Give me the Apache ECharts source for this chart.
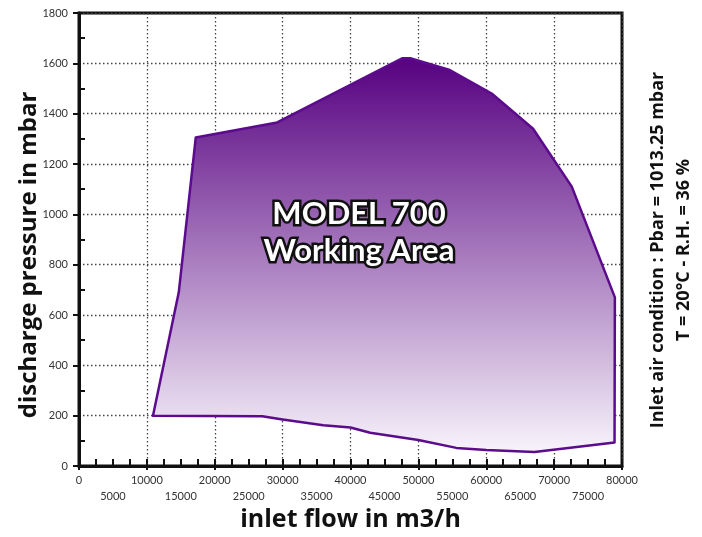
<!DOCTYPE html>
<html>
<head>
<meta charset="utf-8">
<script src="https://cdn.jsdelivr.net/npm/echarts@6/dist/echarts.min.js"></script>
<style>
html,body{margin:0;padding:0;background:#fff;}
#chart{width:702px;height:537px;}
</style>
</head>
<body>
<div id="chart"></div>
<script>
// Working area boundary (inlet flow m3/h, discharge pressure mbar)
const flow = [10900, 14700, 17200, 29200, 47600, 48800, 54500, 60800, 66900, 72600, 78950, 78900, 67100, 60000, 55600, 50000, 47300, 42900, 40000, 36000, 30000, 27000];
const pressure = [200, 690, 1305, 1365, 1620, 1620, 1575, 1480, 1340, 1110, 670, 93, 56, 64, 72, 103, 114, 132, 153, 162, 185, 198];

const xTitle = 'inlet flow in m3/h';
const yTitle = 'discharge pressure in mbar';
const areaLabel = ['MODEL 700', 'Working Area'];
const conditionLines = ['Inlet air condition : Pbar = 1013.25 mbar', 'T = 20°C - R.H. = 36 %'];

const FONT = 'Lato, "Open Sans", sans-serif';
const TITLE_FONT = '"Open Sans", Lato, sans-serif';
const AXIS_COLOR = '#111';

const chart = echarts.init(document.getElementById('chart'), null, {renderer: 'canvas'});

const gradient = new echarts.graphic.LinearGradient(0, 0, 0, 1, [
  {offset: 0, color: '#560080'},
  {offset: 1, color: '#f8f4fb'}
]);

const option = {
  backgroundColor: '#fff',
  animation: false,
  grid: {
    left: 79, right: 80, top: 13, bottom: 71,
    show: true, borderColor: AXIS_COLOR, borderWidth: 3, backgroundColor: 'transparent'
  },
  xAxis: [
    {
      type: 'value', min: 0, max: 80000, interval: 10000, position: 'bottom',
      axisLine: {show: true, onZero: false, lineStyle: {color: AXIS_COLOR, width: 3}},
      axisTick: {show: true, inside: false, length: 4, lineStyle: {color: AXIS_COLOR, width: 2}},
      axisLabel: {show: true, margin: 9, fontSize: 11, color: '#333', fontFamily: FONT, formatter: v => String(v)},
      splitLine: {show: true, lineStyle: {color: '#444', width: 1.3, type: [1.5, 2.5]}},
      name: xTitle, nameLocation: 'middle', nameGap: 41,
      nameTextStyle: {fontSize: 25, fontWeight: 'bold', color: AXIS_COLOR, fontFamily: TITLE_FONT}
    },
    {
      type: 'value', min: 0, max: 80000, interval: 5000, position: 'bottom',
      axisLine: {show: false, onZero: false},
      axisTick: {show: true, inside: true, length: 7, lineStyle: {color: AXIS_COLOR, width: 2}},
      minorTick: {show: true, splitNumber: 2, length: 7, lineStyle: {color: AXIS_COLOR, width: 2}},
      axisLabel: {
        show: true, margin: 25, fontSize: 11, color: '#333', fontFamily: FONT,
        formatter: v => ((v / 5000) % 2 === 1 ? String(v) : '')
      },
      splitLine: {show: false}
    }
  ],
  yAxis: [
    {
      type: 'value', min: 0, max: 1800, interval: 200, position: 'left',
      axisLine: {show: true, onZero: false, lineStyle: {color: AXIS_COLOR, width: 3}},
      axisTick: {show: true, inside: false, length: 6, lineStyle: {color: AXIS_COLOR, width: 2}},
      axisLabel: {show: true, margin: 11, fontSize: 11, color: '#333', fontFamily: FONT, formatter: v => String(v)},
      splitLine: {show: true, lineStyle: {color: '#444', width: 1.3, type: [1.5, 2.5]}}
    },
    {
      type: 'value', min: 0, max: 1800, interval: 200, position: 'left',
      axisLine: {show: false, onZero: false},
      axisTick: {show: false, inside: true},
      minorTick: {show: true, splitNumber: 2, length: 6, lineStyle: {color: AXIS_COLOR, width: 2}},
      axisLabel: {show: false},
      splitLine: {show: false}
    }
  ],
  series: [
    {
      type: 'custom',
      xAxisIndex: 0, yAxisIndex: 0,
      data: [[flow[0], pressure[0]]],
      renderItem: function (params, api) {
        const pts = flow.map((x, i) => api.coord([x, pressure[i]]));
        return {
          type: 'polygon',
          shape: {points: pts},
          style: {fill: gradient, stroke: '#5b0b8c', lineWidth: 2.5, lineJoin: 'round'}
        };
      },
      z: 3
    }
  ],
  graphic: [
    {
      type: 'text', x: 29, y: 255, rotation: Math.PI / 2, z: 10,
      style: {
        text: yTitle, align: 'center', verticalAlign: 'middle',
        font: 'bold 24px ' + TITLE_FONT, fill: AXIS_COLOR
      }
    },
    {
      type: 'text', x: 671, y: 250, rotation: Math.PI / 2, z: 10,
      style: {
        text: conditionLines.join('\n'), align: 'center', verticalAlign: 'middle',
        font: 'bold 18px ' + TITLE_FONT, fill: AXIS_COLOR, lineHeight: 26
      }
    },
    {
      type: 'text', x: 359, y: 232, z: 20,
      style: {
        text: areaLabel.join('\n'), align: 'center', verticalAlign: 'middle',
        font: 'bold 31px ' + FONT, fill: '#ffffff', stroke: '#111', lineWidth: 5,
        strokeFirst: true, lineHeight: 37,
        shadowColor: 'rgba(0,0,0,0.45)', shadowOffsetX: 2, shadowOffsetY: 2, shadowBlur: 1
      }
    }
  ]
};

chart.setOption(option);
</script>
</body>
</html>
